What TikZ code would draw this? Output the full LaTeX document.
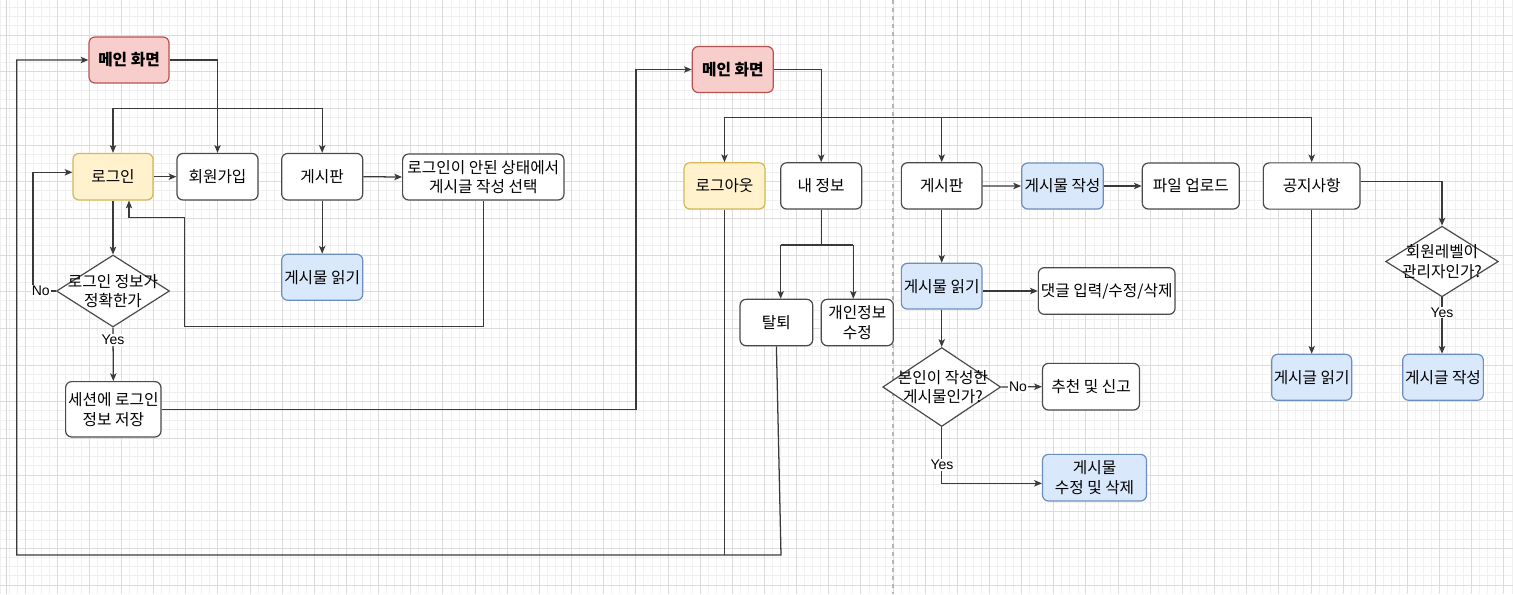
\documentclass[tikz,border=0pt]{standalone}
\usepackage{fontspec}
\setmainfont{Noto Sans CJK KR}
\newfontfamily\labfont{Liberation Sans}
\usetikzlibrary{arrows.meta,shapes.geometric}
\definecolor{redfill}{HTML}{F8CECC}
\definecolor{redline}{HTML}{B85450}
\definecolor{yelfill}{HTML}{FFF2CC}
\definecolor{yelline}{HTML}{D6B656}
\definecolor{bluefill}{HTML}{DAE8FC}
\definecolor{blueline}{HTML}{6C8EBF}
\definecolor{boxline}{HTML}{4A4A4A}
\definecolor{edgec}{HTML}{3A3A3A}
\definecolor{gridminor}{HTML}{F0F0F0}
\definecolor{gridmajor}{HTML}{DCDCDC}
\definecolor{divider}{HTML}{B5B5B5}
\tikzset{
  box/.style={draw=boxline, line width=0.9pt, rounded corners=4.5pt, fill=white,
    align=center, inner sep=0pt, text=black,
    font=\fontsize{11.8pt}{14.8pt}\selectfont},
  redbox/.style={box, fill=redfill, draw=redline,
    font=\fontsize{11.8pt}{14.8pt}\selectfont\bfseries},
  yelbox/.style={box, fill=yelfill, draw=yelline},
  bluebox/.style={box, fill=bluefill, draw=blueline},
  dia/.style={diamond, draw=boxline, line width=0.9pt, fill=white, inner sep=0pt},
  diatext/.style={align=center, inner sep=0pt, text=black,
    font=\fontsize{11.8pt}{14.8pt}\selectfont},
  conn/.style={draw=edgec, line width=0.95pt,
    -{Stealth[length=5.8pt,width=4.8pt,inset=1.4pt]}},
  plain/.style={draw=edgec, line width=0.95pt},
  elabel/.style={fill=white, inner sep=0.6pt, text=black,
    font=\labfont\fontsize{10.5pt}{12pt}\selectfont},
}
\begin{document}
\begin{tikzpicture}[x=0.75pt, y=-0.75pt]
\useasboundingbox (0,0) rectangle (1513,594);
\fill[white] (0,0) rectangle (1513,594);
% grid
\begin{scope}
\clip (0,0) rectangle (1513,594);
\foreach \i in {-3,...,185}{
  \pgfmathtruncatemacro\m{mod(\i+400,4)}
  \ifnum\m=0\relax\else
    \draw[gridminor, line width=0.6pt] (25+8.0375*\i,0) -- (25+8.0375*\i,594);
  \fi}
\foreach \j in {1,...,64}{
  \pgfmathtruncatemacro\m{mod(\j,4)}
  \ifnum\m=0\relax\else
    \draw[gridminor, line width=0.6pt] (0,-1.67+9.1675*\j) -- (1513,-1.67+9.1675*\j);
  \fi}
\foreach \i in {0,...,46}{
  \draw[gridmajor, line width=0.7pt] (25+32.15*\i,0) -- (25+32.15*\i,594);}
\foreach \j in {1,...,16}{
  \draw[gridmajor, line width=0.7pt] (0,-1.67+36.67*\j) -- (1513,-1.67+36.67*\j);}
\draw[gridmajor!85!black!60, line width=0.7pt] (6.7,0) -- (6.7,594);
\end{scope}
\draw[divider, line width=0.8pt, dash pattern=on 3pt off 3pt] (893,0) -- (893,594);

% ---------- left part nodes ----------
\node[redbox, minimum width=60pt, minimum height=34.5pt] (m1) at (129,60) {메인 화면};
\node[yelbox, minimum width=60pt, minimum height=34.9pt] (login) at (113,176.7) {로그인};
\node[box, minimum width=60.75pt, minimum height=34.9pt] (join) at (217.5,176.7) {회원가입};
\node[box, minimum width=60.75pt, minimum height=34.9pt] (board1) at (322.2,176.7) {게시판};
\node[box, minimum width=121pt, minimum height=34.5pt] (nologin) at (483.3,177) {로그인이 안된 상태에서\\게시글 작성 선택};
\node[bluebox, minimum width=60.75pt, minimum height=34.5pt] (read1) at (322.2,277.2) {게시물 읽기};
\node[dia, minimum width=84.75pt, minimum height=54pt] (d1) at (113,291) {};
\node[diatext] (d1t) at (113,291) {로그인 정보가\\정확한가};
\node[box, minimum width=71.5pt, minimum height=41.5pt] (save) at (113.3,409.3) {세션에 로그인\\정보 저장};

% ---------- right part nodes ----------
\node[redbox, minimum width=60.75pt, minimum height=34.5pt] (m2) at (732.8,69.5) {메인 화면};
\node[yelbox, minimum width=60.75pt, minimum height=34.7pt] (logout) at (724.5,185.9) {로그아웃};
\node[box, minimum width=60.75pt, minimum height=34.7pt] (myinfo) at (821.2,185.9) {내 정보};
\node[box, minimum width=60.5pt, minimum height=34.7pt] (board2) at (941.7,185.9) {게시판};
\node[bluebox, minimum width=61.2pt, minimum height=34.5pt] (write) at (1062.5,186) {게시물 작성};
\node[box, minimum width=72.75pt, minimum height=34.5pt] (upload) at (1190.8,186) {파일 업로드};
\node[box, minimum width=72.5pt, minimum height=34.7pt] (notice) at (1311.7,186) {공지사항};
\node[box, minimum width=54.5pt, minimum height=34.8pt] (withdraw) at (776.4,322.5) {탈퇴};
\node[box, minimum width=54pt, minimum height=34.8pt] (edit) at (857.3,322.5) {개인정보\\수정};
\node[bluebox, minimum width=60.5pt, minimum height=34.3pt] (read2) at (941.7,286.2) {게시물 읽기};
\node[box, minimum width=102.5pt, minimum height=35pt] (comment) at (1106.7,291) {댓글 입력/수정/삭제};
\node[dia, minimum width=88.5pt, minimum height=59.25pt] (d2) at (941.7,387) {};
\node[diatext] (d2t) at (943,387) {본인이 작성한\\게시물인가?};
\node[box, minimum width=72.75pt, minimum height=35pt] (rec) at (1091,386.7) {추천 및 신고};
\node[bluebox, minimum width=78pt, minimum height=35pt] (editdel) at (1094.5,477.7) {게시물\\수정 및 삭제};
\node[dia, minimum width=84.5pt, minimum height=53pt] (d3) at (1442,261.5) {};
\node[diatext] (d3t) at (1442,261.5) {회원레벨이\\관리자인가?};
\node[bluebox, minimum width=60pt, minimum height=34.5pt] (nread) at (1311.7,377.3) {게시글 읽기};
\node[bluebox, minimum width=60.5pt, minimum height=34.5pt] (nwrite) at (1443,377.3) {게시글 작성};

% ---------- helper coordinates ----------
\coordinate (yL) at (0,108.3);
\coordinate (xNo) at (33,0);
\coordinate (yNo) at (0,172.3);
\coordinate (r1) at (184.3,326.7);
\coordinate (r2) at (184.3,217.3);
\coordinate (r3) at (129,217.3);
\coordinate (c1) at (636,0);
\coordinate (lb1) at (781,555);
\coordinate (lb0) at (16.8,555);
\coordinate (yR) at (0,117.3);
\coordinate (yB) at (0,245);
\coordinate (xW) at (780.7,0);
\coordinate (xE) at (853.3,0);
\coordinate (yY) at (0,483.3);
\coordinate (yN) at (0,181.5);

% ---------- left connectors ----------
\draw[conn] (m1.east) -- (m1.east -| join.north) -- (join.north);
\draw[plain] (login.north |- yL) -- (board1.north |- yL);
\draw[conn] (login.north |- yL) -- (login.north);
\draw[conn] (board1.north |- yL) -- (board1.north);
\draw[conn] (login.east) -- (join.west);
\draw[conn] (login.south) -- (d1.north);
\draw[conn] (d1.west) -- (xNo |- d1.west) -- (xNo |- yNo) -- (login.west |- yNo);
\node[elabel] (lno1) at (40.8,291) {No};
\draw[conn] (d1.south) -- (save.north);
\node[elabel] (lyes1) at (113,340) {Yes};
\draw[conn] (board1.east) -- (nologin.west);
\draw[conn] (board1.south) -- (read1.north);
\draw[conn] (nologin.south) -- (nologin.south |- r1) -- (r1) -- (r2) -- (r3) -- (r3 |- login.south);
\draw[conn] (save.east) -- (c1 |- save.east) -- (c1 |- m2.west) -- (m2.west);
\draw[conn] (withdraw.south) -- (lb1) -- (lb0) -- (lb0 |- m1.west) -- (m1.west);
\draw[plain] (logout.south) -- (logout.south |- lb1);

% ---------- right connectors ----------
\draw[conn] (m2.east) -- (m2.east -| myinfo.north) -- (myinfo.north);
\draw[plain] (logout.north |- yR) -- (notice.north |- yR);
\draw[conn] (logout.north |- yR) -- (logout.north);
\draw[conn] (board2.north |- yR) -- (board2.north);
\draw[conn] (notice.north |- yR) -- (notice.north);
\draw[plain] (myinfo.south) -- (myinfo.south |- yB);
\draw[plain] (xW |- yB) -- (xE |- yB);
\draw[conn] (xW |- yB) -- (xW |- withdraw.north);
\draw[conn] (xE |- yB) -- (xE |- edit.north);
\draw[conn] (board2.east) -- (write.west);
\draw[conn] (write.east) -- (upload.west);
\draw[conn] (board2.south) -- (read2.north);
\draw[conn] (read2.east |- comment.west) -- (comment.west);
\draw[conn] (read2.south) -- (d2.north);
\draw[conn] (d2.east) -- (rec.west);
\node[elabel] (lno2) at (1018,387) {No};
\draw[conn] (d2.south) -- (d2.south |- yY) -- (editdel.west |- yY);
\node[elabel] (lyes2) at (942,465) {Yes};
\draw[conn] (notice.east |- yN) -- (d3.north |- yN) -- (d3.north);
\draw[conn] (notice.south) -- (nread.north);
\draw[conn] (d3.south) -- (d3.south |- nwrite.north);
\node[elabel] (lyes3) at (1442,312.7) {Yes};
\end{tikzpicture}
\end{document}
